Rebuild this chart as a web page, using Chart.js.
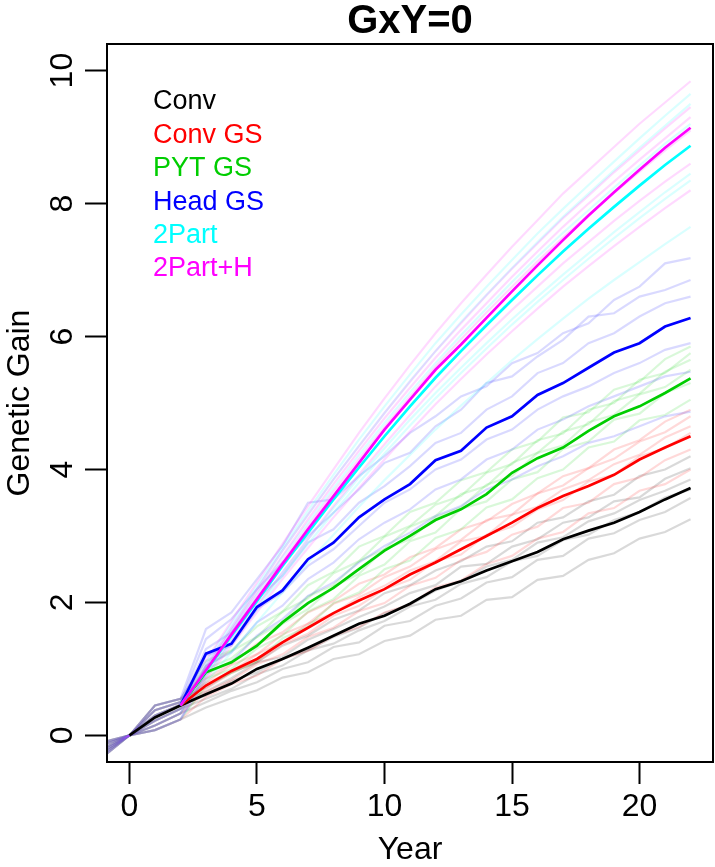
<!DOCTYPE html>
<html>
<head>
<meta charset="utf-8">
<title>GxY=0</title>
<script src="https://cdn.jsdelivr.net/npm/chart.js@4.4.1/dist/chart.umd.min.js"></script>
<style>
  html, body { margin: 0; padding: 0; background: #fff; }
  #wrap { width: 715px; height: 867px; }
</style>
</head>
<body>
<div id="wrap"><canvas id="gainChart"></canvas></div>
<script>
const years = [-1, 0, 1, 2, 3, 4, 5, 6, 7, 8, 9, 10, 11, 12, 13, 14, 15, 16, 17, 18, 19, 20, 21, 22];
const programs = ['Conv', 'Conv GS', 'PYT GS', 'Head GS', '2Part', '2Part+H'];
const programColors = ['0,0,0', '255,0,0', '0,205,0', '0,0,255', '0,255,255', '255,0,255'];
const xTicks = [0, 5, 10, 15, 20];
const yTicks = [0, 2, 4, 6, 8, 10];

// mean genetic gain per program, years -1..22
const meanConv = [null, 0, 0.27, 0.45, 0.62, 0.78, 1.0, 1.15, 1.32, 1.5, 1.68, 1.8, 1.98, 2.2, 2.32, 2.48, 2.62, 2.76, 2.95, 3.08, 3.2, 3.36, 3.55, 3.72];
const meanConvGS = [null, null, null, 0.45, 0.75, 0.97, 1.15, 1.4, 1.62, 1.84, 2.03, 2.2, 2.42, 2.6, 2.8, 3.0, 3.2, 3.42, 3.6, 3.75, 3.92, 4.15, 4.33, 4.5];
const meanPYTGS = [null, null, null, 0.45, 0.95, 1.1, 1.35, 1.7, 1.99, 2.22, 2.5, 2.78, 3.0, 3.24, 3.4, 3.63, 3.95, 4.17, 4.33, 4.58, 4.8, 4.95, 5.15, 5.37];
const meanHeadGS = [null, null, null, 0.45, 1.23, 1.38, 1.93, 2.18, 2.65, 2.9, 3.28, 3.55, 3.78, 4.14, 4.28, 4.63, 4.8, 5.12, 5.3, 5.53, 5.76, 5.9, 6.15, 6.28];
const mean2Part = [null, null, null, 0.45, 0.97, 1.5, 2.02, 2.55, 3.05, 3.55, 4.03, 4.5, 4.95, 5.38, 5.78, 6.17, 6.55, 6.92, 7.28, 7.62, 7.95, 8.27, 8.58, 8.87];
const mean2PartH = [null, null, null, 0.45, 0.98, 1.52, 2.05, 2.58, 3.1, 3.6, 4.1, 4.6, 5.05, 5.5, 5.88, 6.28, 6.68, 7.07, 7.45, 7.82, 8.17, 8.51, 8.84, 9.14];

// burn-in shared by each replicate across programs, years -1..2
const burnIn = [
  [-0.10, 0, 0.45, 0.55],
  [-0.14, 0, 0.38, 0.50],
  [-0.19, 0, 0.30, 0.46],
  [-0.23, 0, 0.22, 0.40],
  [-0.27, 0, 0.15, 0.33],
  [-0.31, 0, 0.08, 0.24]
];

// replicate runs, years 3..22
const repsConv = [
  [0.72, 0.95, 1.1, 1.35, 1.5, 1.74, 1.88, 2.14, 2.26, 2.48, 2.62, 2.84, 2.92, 3.2, 3.28, 3.52, 3.62, 3.9, 4.0, 4.2],
  [0.66, 0.86, 1.1, 1.18, 1.44, 1.6, 1.78, 1.94, 2.14, 2.26, 2.54, 2.58, 2.84, 2.95, 3.2, 3.28, 3.52, 3.58, 3.86, 4.02],
  [0.6, 0.82, 0.95, 1.15, 1.28, 1.48, 1.62, 1.84, 1.96, 2.18, 2.32, 2.54, 2.64, 2.9, 2.98, 3.22, 3.34, 3.54, 3.68, 3.85],
  [0.55, 0.7, 0.92, 1.05, 1.28, 1.38, 1.58, 1.72, 1.94, 2.04, 2.28, 2.38, 2.62, 2.7, 2.94, 3.02, 3.24, 3.36, 3.58, 3.7],
  [0.5, 0.67, 0.8, 1.0, 1.1, 1.33, 1.4, 1.65, 1.72, 1.95, 2.06, 2.3, 2.38, 2.64, 2.7, 2.96, 3.04, 3.24, 3.36, 3.57],
  [0.42, 0.56, 0.68, 0.87, 0.95, 1.15, 1.22, 1.42, 1.5, 1.74, 1.8, 2.04, 2.08, 2.34, 2.4, 2.64, 2.74, 2.96, 3.06, 3.25]
];
const repsConvGS = [
  [0.86, 1.08, 1.38, 1.55, 1.85, 2.02, 2.28, 2.42, 2.68, 2.82, 3.1, 3.22, 3.48, 3.64, 3.9, 4.02, 4.3, 4.44, 4.72, 4.9],
  [0.8, 1.06, 1.22, 1.52, 1.68, 1.98, 2.12, 2.38, 2.54, 2.8, 2.94, 3.24, 3.32, 3.64, 3.76, 4.02, 4.16, 4.42, 4.56, 4.8],
  [0.78, 0.96, 1.22, 1.4, 1.68, 1.84, 2.08, 2.25, 2.48, 2.62, 2.92, 3.0, 3.32, 3.44, 3.7, 3.84, 4.08, 4.22, 4.48, 4.65],
  [0.7, 0.94, 1.1, 1.37, 1.53, 1.8, 1.95, 2.2, 2.34, 2.62, 2.72, 3.02, 3.14, 3.4, 3.54, 3.82, 3.92, 4.2, 4.32, 4.55],
  [0.65, 0.83, 1.07, 1.22, 1.48, 1.62, 1.87, 1.99, 2.25, 2.37, 2.64, 2.76, 3.02, 3.14, 3.42, 3.5, 3.78, 3.88, 4.14, 4.3],
  [0.58, 0.77, 0.9, 1.15, 1.27, 1.5, 1.63, 1.85, 1.97, 2.23, 2.33, 2.58, 2.7, 2.96, 3.06, 3.34, 3.42, 3.68, 3.78, 4.0]
];
const repsPYTGS = [
  [1.12, 1.28, 1.64, 1.86, 2.26, 2.46, 2.84, 3.0, 3.36, 3.5, 3.84, 3.96, 4.3, 4.42, 4.78, 4.86, 5.2, 5.32, 5.66, 5.85],
  [1.04, 1.27, 1.48, 1.86, 2.06, 2.44, 2.62, 2.99, 3.15, 3.47, 3.6, 3.95, 4.08, 4.44, 4.54, 4.9, 5.0, 5.35, 5.45, 5.75],
  [1.0, 1.16, 1.48, 1.7, 2.09, 2.26, 2.62, 2.8, 3.14, 3.3, 3.63, 3.75, 4.1, 4.25, 4.57, 4.68, 5.03, 5.14, 5.47, 5.65],
  [0.92, 1.12, 1.34, 1.68, 1.9, 2.24, 2.43, 2.8, 2.95, 3.28, 3.43, 3.77, 3.9, 4.25, 4.36, 4.71, 4.82, 5.13, 5.24, 5.5],
  [0.85, 1.0, 1.31, 1.5, 1.86, 2.05, 2.4, 2.57, 2.92, 3.05, 3.41, 3.52, 3.85, 3.96, 4.31, 4.42, 4.75, 4.84, 5.15, 5.3],
  [0.75, 0.94, 1.12, 1.46, 1.64, 1.99, 2.15, 2.5, 2.63, 2.97, 3.1, 3.43, 3.55, 3.87, 4.0, 4.33, 4.42, 4.74, 4.82, 5.05]
];
const repsHeadGS = [
  [1.6, 1.85, 2.35, 2.85, 3.5, 3.55, 3.9, 4.2, 4.55, 4.8, 5.1, 5.25, 5.6, 5.75, 6.05, 6.2, 6.55, 6.75, 7.1, 7.18],
  [1.45, 1.75, 2.2, 2.6, 3.0, 3.35, 3.7, 4.1, 4.25, 4.65, 4.9, 5.3, 5.4, 5.7, 5.95, 6.3, 6.35, 6.6, 6.7, 6.85],
  [1.3, 1.55, 2.05, 2.4, 2.9, 3.1, 3.5, 3.75, 4.05, 4.4, 4.55, 4.9, 5.1, 5.45, 5.6, 5.9, 6.05, 6.3, 6.5, 6.6],
  [1.2, 1.35, 1.9, 2.15, 2.55, 2.8, 3.15, 3.5, 3.7, 4.0, 4.15, 4.45, 4.6, 4.9, 5.1, 5.25, 5.45, 5.6, 5.8, 5.9],
  [1.05, 1.25, 1.7, 1.95, 2.35, 2.6, 2.95, 3.2, 3.4, 3.7, 3.85, 4.15, 4.3, 4.6, 4.75, 4.95, 5.1, 5.25, 5.4, 5.47],
  [0.95, 1.1, 1.5, 1.75, 2.1, 2.3, 2.6, 2.85, 3.05, 3.3, 3.45, 3.7, 3.85, 4.05, 4.2, 4.4, 4.5, 4.65, 4.8, 4.87]
];
const reps2Part = [
  [1.1, 1.68, 2.25, 2.82, 3.38, 3.92, 4.45, 4.95, 5.43, 5.9, 6.33, 6.75, 7.15, 7.55, 7.92, 8.28, 8.63, 8.98, 9.32, 9.65],
  [1.05, 1.62, 2.2, 2.78, 3.32, 3.85, 4.36, 4.85, 5.33, 5.78, 6.22, 6.63, 7.03, 7.42, 7.8, 8.15, 8.5, 8.84, 9.17, 9.5],
  [1.0, 1.58, 2.12, 2.68, 3.2, 3.72, 4.22, 4.7, 5.16, 5.6, 6.02, 6.42, 6.82, 7.2, 7.56, 7.9, 8.24, 8.57, 8.9, 9.2],
  [0.92, 1.45, 1.95, 2.45, 2.95, 3.42, 3.88, 4.32, 4.75, 5.15, 5.53, 5.9, 6.26, 6.6, 6.93, 7.25, 7.57, 7.87, 8.17, 8.45],
  [0.88, 1.4, 1.9, 2.4, 2.88, 3.35, 3.8, 4.24, 4.66, 5.07, 5.45, 5.82, 6.18, 6.52, 6.85, 7.17, 7.48, 7.78, 8.07, 8.35],
  [0.8, 1.25, 1.7, 2.15, 2.6, 3.02, 3.44, 3.84, 4.22, 4.6, 4.96, 5.3, 5.64, 5.96, 6.27, 6.57, 6.85, 7.12, 7.39, 7.65]
];
const reps2PartH = [
  [1.12, 1.72, 2.3, 2.88, 3.45, 4.0, 4.55, 5.07, 5.57, 6.05, 6.5, 6.93, 7.35, 7.75, 8.15, 8.5, 8.85, 9.2, 9.52, 9.84],
  [1.05, 1.62, 2.2, 2.78, 3.32, 3.85, 4.35, 4.85, 5.32, 5.78, 6.2, 6.62, 7.02, 7.4, 7.78, 8.12, 8.47, 8.8, 9.13, 9.45],
  [1.02, 1.58, 2.15, 2.7, 3.25, 3.78, 4.28, 4.77, 5.23, 5.68, 6.1, 6.5, 6.9, 7.28, 7.65, 8.0, 8.33, 8.66, 8.98, 9.3],
  [0.98, 1.52, 2.08, 2.62, 3.15, 3.67, 4.16, 4.64, 5.1, 5.55, 5.96, 6.36, 6.75, 7.13, 7.49, 7.83, 8.16, 8.48, 8.8, 9.1],
  [0.9, 1.42, 1.95, 2.45, 2.95, 3.45, 3.92, 4.38, 4.82, 5.25, 5.65, 6.03, 6.4, 6.75, 7.1, 7.42, 7.74, 8.04, 8.33, 8.6],
  [0.85, 1.35, 1.85, 2.35, 2.82, 3.28, 3.72, 4.15, 4.57, 4.98, 5.36, 5.73, 6.08, 6.42, 6.75, 7.06, 7.36, 7.65, 7.93, 8.2]
];

const means = [meanConv, meanConvGS, meanPYTGS, meanHeadGS, mean2Part, mean2PartH];
const reps = [repsConv, repsConvGS, repsPYTGS, repsHeadGS, reps2Part, reps2PartH];

const FONT = '"Liberation Sans", Arial, Helvetica, sans-serif';

function toPoints(values) {
  return years.map((yr, i) => ({ x: yr, y: values[i] }));
}

const datasets = [];
// faint replicate runs first; later programs sit on top of earlier ones
reps.forEach((runs, p) => {
  runs.forEach((run, r) => {
    datasets.push({
      label: programs[p] + ' rep ' + (r + 1),
      data: toPoints(burnIn[r].concat(run)),
      borderColor: 'rgba(' + programColors[p] + ',0.15)',
      borderWidth: 2.2,
      order: 20 - p,
      clip: 0
    });
  });
});
means.forEach((vals, p) => {
  datasets.push({
    label: programs[p],
    data: toPoints(vals),
    borderColor: 'rgb(' + programColors[p] + ')',
    borderWidth: 2.7,
    order: 6 - p,
    clip: 0
  });
});

// plain box around the plotting region
const plotBox = {
  id: 'plotBox',
  afterDraw(chart) {
    const { ctx, chartArea: a } = chart;
    ctx.save();
    ctx.strokeStyle = '#000';
    ctx.lineWidth = 2;
    ctx.strokeRect(a.left, a.top, a.right - a.left, a.bottom - a.top);
    ctx.restore();
  }
};

// coloured program names in the upper left corner
const nameKey = {
  id: 'nameKey',
  afterDraw(chart) {
    const { ctx, chartArea: a } = chart;
    ctx.save();
    ctx.font = '27px ' + FONT;
    ctx.textBaseline = 'middle';
    ctx.textAlign = 'left';
    programs.forEach((name, i) => {
      ctx.fillStyle = 'rgb(' + programColors[i] + ')';
      ctx.fillText(name, a.left + 46, a.top + 58 + i * 33.4);
    });
    ctx.restore();
  }
};

const ctx = document.getElementById('gainChart').getContext('2d');
new Chart(ctx, {
  type: 'line',
  data: { datasets: datasets },
  options: {
    responsive: true,
    maintainAspectRatio: false,
    animation: false,
    layout: { padding: { left: 0, right: 2, top: 0, bottom: 0 } },
    elements: {
      point: { radius: 0 },
      line: { tension: 0, fill: false }
    },
    plugins: {
      legend: { display: false },
      tooltip: { enabled: false },
      title: {
        display: true,
        text: 'GxY=0',
        fullSize: false,
        color: '#000',
        padding: 0,
        font: { family: FONT, size: 40, weight: 'bold', lineHeight: 1.1 }
      }
    },
    scales: {
      x: {
        type: 'linear',
        min: -0.88,
        max: 22.88,
        afterBuildTicks: (scale) => { scale.ticks = xTicks.map(v => ({ value: v })); },
        afterFit: (scale) => { scale.height = 105; },
        grid: { drawOnChartArea: false, drawTicks: true, tickLength: 22, tickWidth: 2, tickColor: '#000' },
        border: { display: false },
        ticks: {
          color: '#000',
          padding: 4,
          autoSkip: false,
          maxRotation: 0,
          font: { family: FONT, size: 32 }
        },
        title: {
          display: true,
          text: 'Year',
          color: '#000',
          padding: { top: 0, bottom: 1 },
          font: { family: FONT, size: 32, lineHeight: 1 }
        }
      },
      y: {
        type: 'linear',
        min: -0.4,
        max: 10.4,
        afterBuildTicks: (scale) => { scale.ticks = yTicks.map(v => ({ value: v })); },
        afterFit: (scale) => { scale.width = 107; },
        grid: { drawOnChartArea: false, drawTicks: true, tickLength: 22, tickWidth: 2, tickColor: '#000' },
        border: { display: false },
        ticks: {
          color: '#000',
          padding: 4,
          autoSkip: false,
          minRotation: 90,
          maxRotation: 90,
          crossAlign: 'center',
          font: { family: FONT, size: 32 }
        },
        title: {
          display: true,
          text: 'Genetic Gain',
          color: '#000',
          padding: { top: 4, bottom: 0 },
          font: { family: FONT, size: 32, lineHeight: 1 }
        }
      }
    }
  },
  plugins: [plotBox, nameKey]
});
</script>
</body>
</html>
